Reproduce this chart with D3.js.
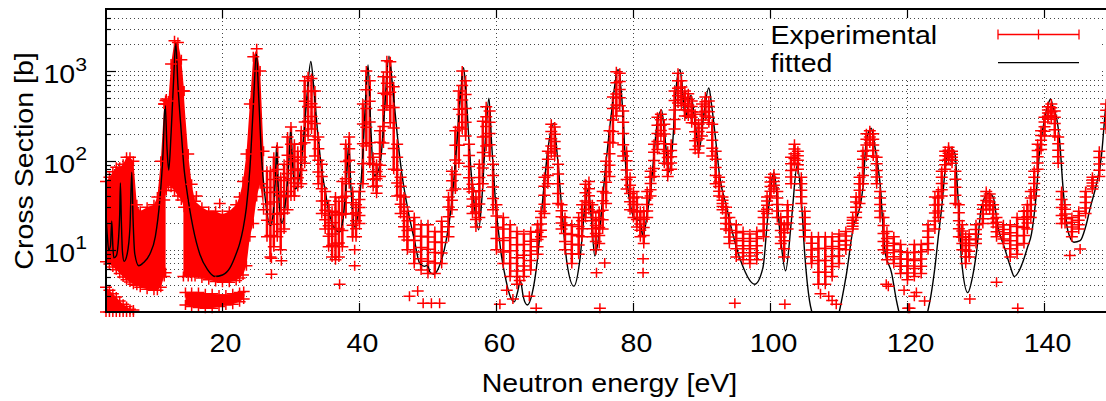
<!DOCTYPE html>
<html lang="en">
<head>
<meta charset="utf-8">
<title>Cross section</title>
<script src="https://d3js.org/d3.v7.min.js"></script>
<style>
  body { margin: 0; background: #fff; }
  text { font-family: "Liberation Sans", Arial, Helvetica, sans-serif; fill: #000; }
</style>
</head>
<body>
<svg width="1106" height="401"></svg>
<script>
// ---- data ----
var xTicks = [20, 40, 60, 80, 100, 120, 140];
var yMajor = [10, 100, 1000];
var yExp = ["1", "2", "3"];

// measured points, dense part (0-26 eV): [E, lower, upper] of the red mass
var denseA = [[3.0,7.3,58],[3.5,6.9,65],[4.0,6.4,75],[4.5,5.95,84],[5.0,5.4,84],[5.5,4.95,91],[6.0,4.6,109],[6.5,4.35,109],[7.0,4.1,98],[7.5,4.0,32],[8.0,3.8,27],[9.0,3.6,30],[10.0,3.5,32],[10.5,3.5,39],[11.0,3.8,98],[11.5,5.0,430],[11.7,5.5,470]];
var denseB = [[11.5,36,430],[11.8,46,490],[12.1,53,465],[12.5,50,1210],[13.0,46,2200],[13.5,40,2100],[14.0,36,1350],[14.4,30,600]];
var denseC = [[14.3,5.0,600],[15.0,5.0,118],[15.5,5.0,54],[16.0,5.0,35],[17.0,4.8,30],[18.0,4.6,27],[19.0,4.4,27],[20.0,4.3,24.8],[21.0,4.3,27],[22.0,4.5,32],[22.5,4.8,39],[23.0,5.2,58],[23.5,6.6,118],[24.0,14,430],[24.5,19.6,1460],[25.0,39.5,1790],[25.5,55,1010],[26.0,28,127]];
// low branches near the axis
var denseLow = [[3.0,2.0,3.8],[3.5,2.0,3.5],[4.0,2.0,3.2],[4.5,2.0,2.95],[5.0,2.0,2.66],[5.5,2.0,2.45],[6.0,2.0,2.3],[6.5,2.0,2.15],[7.0,2.0,2.1]];
var denseLow2 = [[14.6,2.4,3.3],[15.5,2.3,3.3],[16.5,2.25,3.3],[17.5,2.2,3.2],[18.5,2.2,3.2],[19.5,2.3,3.1],[20.5,2.4,3.1],[21.5,2.45,3.2],[22.5,2.6,3.3],[23.1,2.8,3.4]];

// measured points with error bars above 26 eV: [E, lower, upper]
var expBars = [[26.5,14,76],[27,8.3,76],[27.5,10.8,109],[28,14,141],[28.5,10,65],[29,17,91],[29.5,28,183],[30,40,237],[30.5,40,152],[31,51,127],[31.5,55,215],[32,93,785],[32.5,188,870],[33,225,830],[33.5,112,600],[34,55,183],[34.5,25.5,91],[35,17,45],[35.5,10.8,32],[36,8.3,27],[36.5,7.7,39],[37,8.3,35],[37.5,10.8,58],[38,25.5,152],[38.5,55,183],[39,14,45],[39.5,14,32],[40,19.6,45],[40.5,55,430],[41,145,1010],[41.5,93,785],[42,51,109],[42.5,43,91],[43,66,215],[43.5,157,870],[44,410,1310],[44.5,265,1280],[45,80,670],[45.5,40,152],[46,25.5,65],[46.5,14,39],[47,10,27],[48,7,23],[49,5.9,19],[50,5.4,19],[51,5.4,16],[52,7,20.8],[53,14,39],[53.5,28,76],[54,48,215],[54.5,93,600],[55,225,1010],[55.5,188,785],[56,48,152],[56.5,25.5,54],[57,18,39],[57.5,23,91],[58,55,275],[58.5,145,400],[59,112,360],[59.5,28,91],[60,10,32],[61,7,23],[62,5,19],[63,4.1,16],[64,5,15],[65,5.9,16],[66,8.9,19],[66.5,14,27],[67,25.5,65],[67.5,55,127],[68,121,255],[68.5,112,237],[69,33,91],[69.5,17,32],[70,10,23],[71,7,19],[72,8.9,23],[72.5,14,32],[73,23,54],[73.5,28,58],[74,14,32],[74.5,10,23],[75,11.7,27],[75.5,17,45],[76,33,98],[76.5,66,215],[77,157,515],[77.5,315,990],[78,410,950],[78.5,112,360],[79,48,127],[79.5,28,65],[80,23,45],[80.5,18,39],[81,14,27],[81.5,11.7,27],[82,23,45],[82.5,40,76],[83,66,152],[83.5,133,305],[84,188,330],[84.5,93,255],[85,66,127],[85.5,80,152],[86,225,600],[86.5,440,950],[87,410,785],[87.5,315,600],[88,315,560],[88.5,265,465],[89,133,330],[89.5,121,255],[90,188,430],[90.5,315,515],[91,265,465],[91.5,112,255],[92,55,127],[92.5,40,65],[93,28,39],[93.5,17,30],[94,11.7,23],[95,8.3,19],[96,7.7,16],[97,7,15],[98,7.7,16],[99,14,27],[99.5,25.5,39],[100,40,65],[100.5,48,70],[101,23,45],[101.5,11.7,23],[102,8.3,19],[102.5,17,32],[103,55,109],[103.5,93,152],[104,80,127],[104.5,33,65],[105,14,27],[106,7,14],[107,4.1,14],[108,4.1,14],[109,5,14],[110,7,15],[111,10,16],[112,17,23],[112.5,23,39],[113,33,65],[113.5,55,127],[114,112,200],[114.5,157,215],[115,112,200],[115.5,55,109],[116,23,45],[116.5,10,23],[117,7.7,16],[118,7,14],[119,5.4,11.4],[120,4.6,9.3],[121,5,11.4],[122,5.4,11.4],[123,10,19],[124,17,39],[124.5,23,45],[125,40,76],[125.5,80,127],[126,103,141],[126.5,93,127],[127,33,76],[127.5,14,32],[128,10,19],[128.5,7,14],[129,8.3,15],[130,11.7,19],[131,19.6,32],[131.5,28,45],[132,28,42],[132.5,19.6,32],[133,14,23],[134,11.7,19],[135,8.3,19],[136,8.9,23],[137,11.7,27],[137.5,17,32],[138,23,45],[138.5,40,76],[139,80,152],[139.5,133,215],[140,188,305],[140.5,290,400],[141,290,430],[141.5,188,360],[142,93,183],[142.5,19.6,45],[143,19.6,32],[144,14,23],[145,17,27],[146,25.5,45],[147,48,65],[148,66,127],[149,225,430]];

// isolated measured points: [E, sigma]
var strays = [[16.2,40],[19.6,33],[27.15,8],[27.15,5.3],[28.6,7.5],[37.1,4.1],[39.3,6.6],[39.3,10],[47.3,3.0],[48.5,3.45],[49.3,2.5],[50.5,2.5],[51.7,2.5],[60.5,2.45],[61.5,3.5],[62.4,2.8],[63.4,4.5],[64.8,3.0],[65.8,2.2],[74.6,5.5],[75.1,2.2],[75.8,7.1],[81.4,5.5],[81.4,7.9],[94.8,2.5],[102.1,2.45],[107.3,3.2],[108.5,3.0],[109.0,2.7],[109.6,2.45],[116.9,4.1],[117.2,3.9],[119.5,3.5],[120.1,2.2],[120.3,2.2],[121.0,3.0],[121.3,3.3],[122.5,2.66],[129.1,2.8],[133,4.3],[136.1,2.2],[143.7,8.6],[145.2,10.2]];

// fitted curve: [E, sigma]
var fitted = [[3.0,24],[3.2,14],[3.4,9.8],[3.65,11],[3.84,21],[4.0,11],[4.14,8.1],[4.5,8.5],[4.85,14],[5.0,25],[5.1,56],[5.25,20],[5.4,9.5],[5.64,7.4],[6.1,9],[6.5,18],[6.76,74],[6.95,22],[7.2,9],[7.78,6.6],[8.5,7.2],[9.39,8.9],[10.2,14],[10.85,35.7],[11.3,110],[11.63,440],[11.9,140],[12.16,78],[12.5,200],[12.9,900],[13.18,2100],[13.5,700],[14.0,203],[14.4,80],[14.74,50],[15.7,17.8],[16.7,8.9],[17.8,6.0],[18.9,5.0],[20.0,5.2],[21.07,6.2],[22.0,9],[22.5,11.6],[23.0,17],[23.5,30],[24.0,80],[24.5,400],[24.96,1590],[25.3,500],[25.7,110],[26.2,40],[27.0,18.6],[27.5,30],[27.75,70],[27.9,148],[28.1,60],[28.66,20],[29.3,40],[29.7,100],[29.97,220],[30.25,90],[30.66,48],[31.3,70],[31.9,200],[32.4,600],[32.9,1290],[33.3,700],[33.8,250],[34.4,90],[35.0,45],[35.8,22],[36.6,16.5],[37.1,15.8],[37.6,22],[38.1,60],[38.44,155],[38.75,50],[39.3,17.9],[39.9,30],[40.5,120],[40.9,500],[41.26,1180],[41.6,300],[41.9,100],[42.2,68],[42.7,74],[43.2,120],[43.7,400],[44.3,1480],[44.9,600],[45.5,200],[46.2,70],[47.0,30],[48.0,13],[48.8,7.0],[49.5,6.5],[49.9,6.7],[50.3,5.6],[50.85,5.3],[51.8,7],[52.6,12],[53.4,30],[54.2,150],[54.8,600],[55.2,1100],[55.6,500],[56.1,120],[56.8,30],[57.4,16.7],[57.9,40],[58.4,180],[58.9,500],[59.3,150],[59.8,40],[60.6,10],[61.4,4.5],[62.0,3.0],[62.6,2.6],[63.1,3.4],[63.5,4.47],[63.9,3.0],[64.5,2.4],[65.2,3.2],[66.0,8],[66.8,40],[67.6,150],[68.3,260],[68.9,110],[69.6,25],[70.3,7],[71.3,3.9],[72.2,8],[72.9,30],[73.4,48],[73.9,20],[74.35,8.5],[75.1,18],[75.9,80],[76.8,350],[77.75,1050],[78.3,500],[78.9,80],[79.6,30],[80.2,22.4],[80.9,21.2],[81.4,14.3],[82.0,25],[82.6,55],[83.4,240],[84.1,370],[84.6,180],[85.2,74],[85.7,150],[86.3,740],[86.8,1050],[87.2,550],[87.6,300],[88.0,420],[88.4,540],[88.9,300],[89.6,131],[90.2,300],[91.0,650],[91.4,420],[91.9,200],[92.6,65],[93.6,30],[94.5,15],[95.8,7],[97.7,4.1],[98.9,6.3],[99.65,25.5],[100.5,74],[101.4,15],[102.2,5.8],[103.1,23],[103.9,88],[104.5,36],[105.0,8.9],[105.7,2.66],[106.2,1.8],[107.5,1.0],[108.8,1.0],[109.9,1.8],[110.5,3.0],[111.1,5.4],[112.1,18],[113.0,29],[113.5,50],[114.0,169],[114.7,230],[115.2,150],[115.7,85],[116.0,55],[116.7,9.7],[117.7,5.4],[118.4,2.66],[118.9,1.8],[120.5,0.9],[121.5,0.9],[122.8,1.8],[123.4,3.0],[124.0,6.3],[124.5,14],[125.0,30],[125.7,109],[126.2,140],[126.9,121],[127.4,36],[127.9,7.5],[128.8,3.3],[129.5,5],[130.1,9.7],[130.8,30],[131.8,43],[132.5,39],[133.2,18],[134.2,10.3],[135.0,6.5],[135.6,5.0],[136.3,5.8],[136.9,7.5],[137.5,10.5],[138.1,15],[138.8,42],[139.3,131],[140.0,285],[140.5,420],[140.9,490],[141.3,380],[141.75,305],[142.2,169],[142.7,50],[143.4,16.4],[144.3,12.1],[145.2,12.6],[146.0,18],[146.7,30],[147.6,55],[148.3,110],[148.9,369],[149.5,800]];

// ---- drawing ----
var marge = {top: 9, left: 106, bottom: 89};
var svg = d3.select("svg");
var plotW = 1007;                       // plot runs past the right edge of the picture
var plotH = 401 - marge.top - marge.bottom;
var xStretch = 1.12;                     // text in the original is wider than Arial

var x = d3.scaleLinear().domain([3, 150]).range([marge.left, marge.left + plotW]);
var y = d3.scaleLog().domain([2, 5000]).range([marge.top + plotH, marge.top]);

svg.append("rect").attr("width", 1106).attr("height", 401).attr("fill", "#fff");

svg.append("clipPath").attr("id", "plotclip")
  .append("rect")
  .attr("x", marge.left).attr("y", marge.top)
  .attr("width", plotW).attr("height", plotH);

// grid
var grid = svg.append("g").attr("stroke", "#444").attr("stroke-width", 1).attr("stroke-dasharray", "1,3");
grid.selectAll(".gy").data(y.ticks().filter(function(v){ return v > 2 && v < 5000; }))
  .enter().append("line")
  .attr("x1", marge.left).attr("x2", marge.left + plotW)
  .attr("y1", function(d){ return Math.round(y(d)) + 0.5; })
  .attr("y2", function(d){ return Math.round(y(d)) + 0.5; });
grid.selectAll(".gx").data(xTicks)
  .enter().append("line")
  .attr("x1", function(d){ return Math.round(x(d)) + 0.5; })
  .attr("x2", function(d){ return Math.round(x(d)) + 0.5; })
  .attr("y1", marge.top).attr("y2", marge.top + plotH);

var red = "#ff0000";
var plus = "M-6,0H6M0,-5V5";
var data = svg.append("g");
var clipped = data.append("g").attr("clip-path", "url(#plotclip)");

// dense part drawn as a filled envelope
var area = d3.area()
  .x(function(d){ return x(d[0]); })
  .y0(function(d){ return y(d[1]); })
  .y1(function(d){ return y(d[2]); });
[denseA, denseB, denseC, denseLow, denseLow2].forEach(function(band){
  clipped.append("path").attr("d", area(band)).attr("fill", red);
});

// error bars
clipped.selectAll(".bar").data(expBars).enter().append("line")
  .attr("x1", function(d){ return x(d[0]); })
  .attr("x2", function(d){ return x(d[0]); })
  .attr("y1", function(d){ return y(d[1]); })
  .attr("y2", function(d){ return y(d[2]); })
  .attr("stroke", red).attr("stroke-width", 2.5);

// plus markers at the ends of every bar / band edge, along the bars, and the stray points
var marks = [];
denseA.concat(denseB, denseC, denseLow, denseLow2, expBars).forEach(function(d){
  marks.push([x(d[0]), y(d[1])]);
  marks.push([x(d[0]), y(d[2])]);
});
expBars.forEach(function(d){
  var a = y(d[1]), b = y(d[2]);
  [0.25, 0.5, 0.75].forEach(function(f){ marks.push([x(d[0]), a + (b - a) * f]); });
});
strays.forEach(function(d){ marks.push([x(d[0]), y(d[1])]); });

data.selectAll(".pt").data(marks).enter().append("path")
  .attr("d", plus)
  .attr("transform", function(d){ return "translate(" + d[0] + "," + d[1] + ")"; })
  .attr("fill", "none").attr("stroke", red).attr("stroke-width", 1.5);

// fitted curve
var line = d3.line()
  .x(function(d){ return x(d[0]); })
  .y(function(d){ return y(d[1]); })
  .curve(d3.curveMonotoneX);
clipped.append("path").attr("d", line(fitted))
  .attr("fill", "none").attr("stroke", "#000").attr("stroke-width", 1.4);

// border and ticks
var axes = svg.append("g").attr("stroke", "#000");
axes.append("rect")
  .attr("x", marge.left).attr("y", marge.top)
  .attr("width", plotW).attr("height", plotH)
  .attr("fill", "none").attr("stroke-width", 2);
xTicks.forEach(function(t){
  var px = Math.round(x(t)) + 0.5;
  axes.append("line").attr("x1", px).attr("x2", px)
    .attr("y1", marge.top + plotH).attr("y2", marge.top + plotH - 9).attr("stroke-width", 1.2);
  axes.append("line").attr("x1", px).attr("x2", px)
    .attr("y1", marge.top).attr("y2", marge.top + 9).attr("stroke-width", 1.2);
});
y.ticks().filter(function(v){ return v > 2 && v < 5000; }).forEach(function(t){
  var py = Math.round(y(t)) + 0.5;
  var len = yMajor.indexOf(t) >= 0 ? 10 : 5;
  axes.append("line").attr("x1", marge.left).attr("x2", marge.left + len)
    .attr("y1", py).attr("y2", py).attr("stroke-width", 1.2);
});

// tick labels
function stretched(sel, tx, ty) {
  return sel.attr("transform", "translate(" + tx + "," + ty + ") scale(" + xStretch + ",1)");
}
xTicks.forEach(function(t){
  stretched(svg.append("text"), x(t) + 3, 351.5)
    .attr("text-anchor", "middle").attr("font-size", 25.5).text(t);
});
yMajor.forEach(function(t, i){
  var lab = stretched(svg.append("text"), 87, y(t) + 12)
    .attr("text-anchor", "end").attr("font-size", 25.5);
  lab.append("tspan").text("10");
  lab.append("tspan").attr("font-size", 19).attr("dy", -12.5).text(yExp[i]);
});

// axis titles
stretched(svg.append("text"), 609.5, 391.5)
  .attr("text-anchor", "middle").attr("font-size", 25.5).text("Neutron energy [eV]");
svg.append("text")
  .attr("transform", "translate(33,161) rotate(-90) scale(" + xStretch + ",1)")
  .attr("text-anchor", "middle").attr("font-size", 25.5).text("Cross Section [b]");

// key
var key = svg.append("g");
key.append("rect").attr("x", 766).attr("y", 21).attr("width", 334).attr("height", 57).attr("fill", "#fff");
stretched(key.append("text"), 770.5, 44.3).attr("font-size", 25.5).text("Experimental");
stretched(key.append("text"), 770.5, 71.7).attr("font-size", 25.5).text("fitted");
var ky = 34.5;
key.append("line").attr("x1", 998).attr("x2", 1079).attr("y1", ky).attr("y2", ky).attr("stroke", red).attr("stroke-width", 1.3);
[998, 1038.5, 1079].forEach(function(kx){
  key.append("line").attr("x1", kx).attr("x2", kx).attr("y1", ky - 5).attr("y2", ky + 5)
    .attr("stroke", red).attr("stroke-width", 1.3);
});
key.append("line").attr("x1", 998).attr("x2", 1079).attr("y1", 62.7).attr("y2", 62.7)
  .attr("stroke", "#000").attr("stroke-width", 1.3);
</script>
</body>
</html>
